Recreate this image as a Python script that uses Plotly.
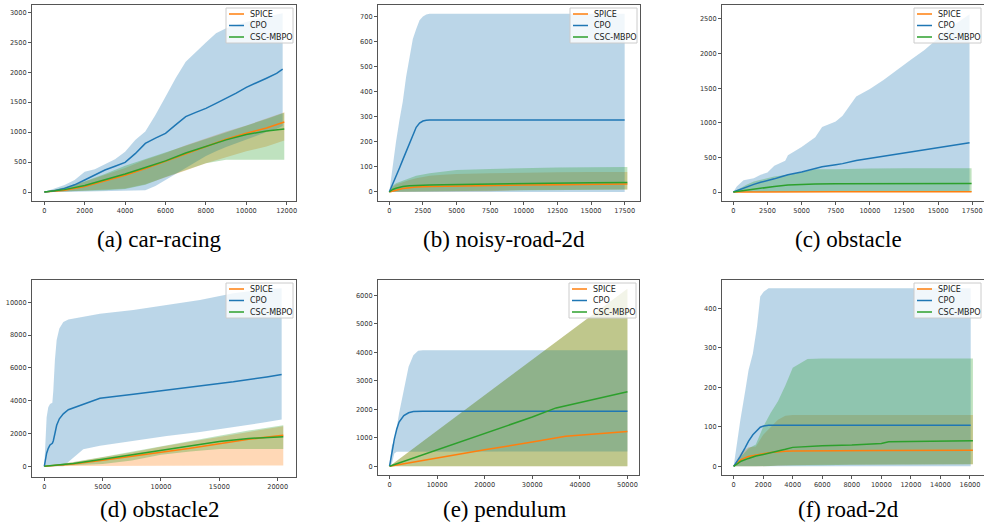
import plotly.graph_objects as go

# ---------------- data ----------------
SERIES = ["SPICE", "CPO", "CSC-MBPO"]
CAPTIONS = ["(a) car-racing", "(b) noisy-road-2d", "(c) obstacle",
            "(d) obstacle2", "(e) pendulum", "(f) road-2d"]

# (a) car-racing
A_x = [0, 1000, 2000, 3000, 4000, 5000, 6000, 7000, 8000, 9000, 10000, 11000, 11880]
A_spice_mean = [0, 30, 90, 180, 280, 390, 510, 640, 760, 880, 980, 1070, 1170]
A_spice_lo = [0, 10, 20, 40, 60, 130, 240, 360, 480, 580, 680, 760, 860]
A_spice_hi = [0, 70, 170, 290, 400, 540, 650, 780, 900, 1010, 1110, 1230, 1330]
A_cpo_x = [0, 500, 1000, 1500, 2000, 2500, 3000, 3500, 4000, 4500, 5000, 5500, 6000,
           6500, 7000, 7500, 8000, 8500, 9000, 9500, 10000, 10500, 11000, 11500, 11800]
A_cpo_mean = [0, 20, 61, 120, 200, 280, 367, 430, 495, 640, 812, 900, 980,
              1120, 1258, 1330, 1397, 1480, 1564, 1650, 1748, 1830, 1900, 1980, 2050]
A_cpo_hi = [0, 55, 117, 200, 340, 380, 460, 545, 673, 870, 1010, 1285, 1592,
            1900, 2176, 2343, 2494, 2650, 2733, 2790, 2844, 2890, 2928, 2960, 2983]
A_cpo_lo = [0, 0, 0, 5, 10, 10, 15, 20, 20, 25, 30, 100, 200,
            300, 400, 500, 600, 680, 750, 820, 880, 940, 1000, 1050, 1100]
A_csc_mean = [0, 40, 110, 200, 300, 410, 520, 650, 760, 870, 960, 1020, 1050]
A_csc_hi = [0, 80, 180, 300, 440, 550, 660, 770, 880, 1000, 1110, 1220, 1325]
A_csc_lo = [0, 10, 20, 30, 50, 120, 250, 370, 480, 540, 540, 540, 540]

# (b) noisy-road-2d
B_x = [0, 250, 500, 1000, 1500, 2000, 3000, 4000, 5000, 7500, 10000, 12500, 15000, 17700]
B_spice_mean = [0, 4, 8, 14, 17, 20, 22, 23, 25, 27, 28, 29, 30, 32]
B_spice_hi = [0, 20, 30, 40, 48, 55, 65, 69, 72, 75, 78, 79, 80, 80]
B_spice_lo = [0, 0, 0, 0, 1, 1, 2, 2, 2, 3, 8, 9, 10, 10]
B_cpo_x = [0, 250, 500, 750, 1000, 1250, 1500, 1750, 2000, 2250, 2500, 2750, 3000, 17500]
B_cpo_mean = [0, 30, 62, 95, 128, 160, 195, 230, 258, 275, 283, 286, 287, 287]
B_cpo_hi = [0, 110, 200, 285, 360, 460, 540, 610, 650, 685, 700, 708, 711, 711]
B_cpo_lo = [0, 0, 0, 0, 0, 0, 0, 0, 0, 0, 0, 0, 0, 0]
B_csc_mean = [0, 10, 15, 22, 25, 27, 28, 29, 30, 32, 34, 36, 37, 38]
B_csc_hi = [0, 25, 35, 45, 55, 65, 75, 82, 88, 92, 96, 98, 99, 100]
B_csc_lo = [0, 1, 2, 3, 3, 3, 4, 4, 5, 6, 7, 8, 9, 10]

# (c) obstacle
C_spice_x = [0, 2500, 7500, 17450]
C_spice_mean = [0, 3, 4, 5]
C_spice_hi = [0, 8, 10, 12]
C_spice_lo = [0, 0, 0, 0]
C_cpo_x = [0, 250, 750, 1500, 2000, 2500, 3000, 3500, 3800, 4000, 5000, 6000, 6500, 7500,
           8000, 9000, 10000, 11000, 12000, 13000, 14000, 15000, 16000, 17300]
C_cpo_mean = [0, 20, 60, 110, 140, 160, 190, 220, 240, 250, 290, 335, 365, 395,
              410, 455, 485, 515, 545, 575, 610, 640, 670, 710]
C_cpo_hi = [0, 80, 170, 200, 250, 280, 380, 420, 450, 530, 650, 790, 940, 1020,
            1100, 1380, 1490, 1620, 1770, 1910, 2050, 2220, 2390, 2570]
C_cpo_lo = [0, 0, 0, 0, 0, 0, 0, 0, 0, 0, 0, 0, 0, 0,
            0, 0, 0, 0, 0, 0, 0, 0, 0, 0]
C_csc_x = [0, 1000, 1500, 2500, 3000, 4000, 5000, 6000, 7500, 9000, 10000, 12500, 15000, 17450]
C_csc_mean = [0, 30, 45, 70, 80, 100, 110, 115, 120, 120, 120, 121, 122, 122]
C_csc_hi = [0, 110, 150, 200, 225, 250, 290, 330, 330, 330, 340, 342, 345, 345]
C_csc_lo = [0, 0, 0, 0, 0, 0, 0, 0, 0, 0, 0, 0, 0, 0]

# (d) obstacle2
D_x = [0, 2500, 5000, 7500, 10000, 12500, 15000, 17500, 20480]
D_spice_mean = [0, 150, 370, 600, 850, 1100, 1380, 1650, 1900]
D_spice_hi = [0, 250, 550, 850, 1200, 1500, 1800, 2100, 2450]
D_spice_lo = [0, 20, 30, 40, 50, 50, 50, 50, 50]
D_cpo_x = [0, 200, 340, 490, 690, 770, 910, 1060, 1290, 1630, 2060, 3340, 4770,
           7630, 10490, 13340, 16200, 19060, 20340]
D_cpo_mean = [0, 800, 1100, 1300, 1400, 1550, 2000, 2500, 2900, 3200, 3450, 3800, 4150,
              4400, 4650, 4900, 5150, 5450, 5600]
D_cpo_hi = [0, 3000, 3600, 3800, 3880, 4600, 6500, 7700, 8400, 8800, 8950, 9100, 9300,
            9530, 9840, 10140, 10550, 10790, 10850]
D_cpo_lo = [0, 0, 0, 0, 0, 0, 0, 0, 0, 0, 300, 1040, 1250,
            1550, 1850, 2100, 2400, 2700, 2850]
D_csc_mean = [0, 180, 430, 700, 1000, 1280, 1520, 1700, 1800]
D_csc_hi = [0, 260, 570, 900, 1250, 1560, 1870, 2180, 2500]
D_csc_lo = [0, 60, 150, 350, 700, 900, 1050, 1050, 1050]

# (e) pendulum
E_spice_x = [0, 10000, 20000, 30000, 37000, 50000]
E_spice_mean = [0, 300, 580, 850, 1050, 1220]
E_spice_hi = [0, 1250, 2500, 3750, 4620, 6240]
E_spice_lo = [0, 0, 0, 0, 0, 0]
E_cpo_x = [0, 500, 1000, 1500, 2000, 3000, 4000, 5000, 6000, 7000, 50000]
E_cpo_mean = [0, 550, 950, 1300, 1550, 1780, 1880, 1920, 1930, 1930, 1930]
E_cpo_hi = [0, 750, 850, 1400, 1860, 2680, 3500, 3900, 4060, 4080, 4080]
E_cpo_lo = [0, 100, 450, 510, 520, 520, 520, 520, 520, 520, 520]
E_csc_x = [0, 10000, 20000, 30000, 35000, 40000, 50000]
E_csc_mean = [0, 580, 1170, 1730, 2050, 2240, 2620]
E_csc_hi = [0, 1250, 2500, 3750, 4370, 5000, 6240]
E_csc_lo = [0, 0, 0, 0, 0, 0, 0]

# (f) road-2d
F_spice_x = [0, 500, 1000, 1500, 2000, 2500, 3000, 3500, 4000, 6000, 10000, 16200]
F_spice_mean = [0, 17, 25, 29, 32, 35, 37, 38, 39, 39, 40, 41]
F_spice_hi = [0, 35, 48, 50, 80, 100, 118, 128, 130, 130, 130, 130]
F_spice_lo = [0, 0, 0, 0, 0, 1, 2, 2, 3, 4, 5, 5]
F_cpo_x = [0, 225, 450, 790, 1010, 1300, 1580, 1800, 2030, 2360, 16050]
F_cpo_mean = [0, 12, 25, 48, 64, 80, 92, 99, 102, 104, 104]
F_cpo_hi = [0, 62, 117, 193, 244, 286, 354, 430, 442, 451, 451]
F_cpo_lo = [0, 0, 0, 0, 0, 0, 0, 0, 0, 0, 0]
F_csc_x = [0, 500, 1000, 1500, 2000, 2500, 3000, 3500, 4000, 5000, 6000, 8000, 9000,
           10000, 10500, 12000, 16200]
F_csc_mean = [0, 13, 20, 26, 30, 34, 38, 43, 48, 50, 52, 54, 56, 58, 62, 63, 65]
F_csc_hi = [0, 25, 45, 55, 100, 135, 165, 205, 250, 272, 273, 273, 273, 273, 273, 273, 273]
F_csc_lo = [0, 0, 0, 0, 0, 1, 2, 2, 3, 3, 3, 4, 4, 4, 5, 5, 5]

# axis ticks
X_DTICK = [2000, 2500, 2500, 5000, 10000, 2000]
Y_DTICK = [500, 100, 500, 2000, 1000, 100]

# ---------------- styling / layout ----------------
W, H = 984, 522
LINE_COLORS = {"SPICE": "#ff7f0e", "CPO": "#1f77b4", "CSC-MBPO": "#2ca02c"}
FILL_COLORS = {"SPICE": "rgba(255,127,14,0.3)", "CPO": "rgba(31,119,180,0.3)",
               "CSC-MBPO": "rgba(44,160,44,0.3)"}

# axes boxes in pixels: (left, right, top, bottom)
BOXES = [(32, 296, 5, 201), (378, 640, 5, 201), (722, 984, 5, 201),
         (32, 296, 280, 477), (378, 639, 280, 475), (722, 984, 280, 475)]
X_RANGES = [(-610, 12460), (-840, 18640), (-830, 18360),
            (-1054, 21570), (-2430, 52430), (-790, 16950)]
Y_RANGES = [(-150, 3122), (-36, 746), (-130, 2702),
            (-650, 11360), (-308, 6545), (-22, 472)]
CAP_POS = [(159, 239), (504, 239), (848, 239), (159, 509), (504, 509), (848, 509)]

panels = [
    {"SPICE": (A_x, A_spice_mean, A_spice_lo, A_spice_hi),
     "CPO": (A_cpo_x, A_cpo_mean, A_cpo_lo, A_cpo_hi),
     "CSC-MBPO": (A_x, A_csc_mean, A_csc_lo, A_csc_hi)},
    {"SPICE": (B_x, B_spice_mean, B_spice_lo, B_spice_hi),
     "CPO": (B_cpo_x, B_cpo_mean, B_cpo_lo, B_cpo_hi),
     "CSC-MBPO": (B_x, B_csc_mean, B_csc_lo, B_csc_hi)},
    {"SPICE": (C_spice_x, C_spice_mean, C_spice_lo, C_spice_hi),
     "CPO": (C_cpo_x, C_cpo_mean, C_cpo_lo, C_cpo_hi),
     "CSC-MBPO": (C_csc_x, C_csc_mean, C_csc_lo, C_csc_hi)},
    {"SPICE": (D_x, D_spice_mean, D_spice_lo, D_spice_hi),
     "CPO": (D_cpo_x, D_cpo_mean, D_cpo_lo, D_cpo_hi),
     "CSC-MBPO": (D_x, D_csc_mean, D_csc_lo, D_csc_hi)},
    {"SPICE": (E_spice_x, E_spice_mean, E_spice_lo, E_spice_hi),
     "CPO": (E_cpo_x, E_cpo_mean, E_cpo_lo, E_cpo_hi),
     "CSC-MBPO": (E_csc_x, E_csc_mean, E_csc_lo, E_csc_hi)},
    {"SPICE": (F_spice_x, F_spice_mean, F_spice_lo, F_spice_hi),
     "CPO": (F_cpo_x, F_cpo_mean, F_cpo_lo, F_cpo_hi),
     "CSC-MBPO": (F_csc_x, F_csc_mean, F_csc_lo, F_csc_hi)},
]


def px(x):
    return x / W


def py(y):
    return 1 - y / H


fig = go.Figure()
layout = dict(width=W, height=H, margin=dict(l=0, r=0, t=0, b=0),
              paper_bgcolor="white", plot_bgcolor="white", showlegend=False,
              annotations=[], shapes=[])

for i, panel in enumerate(panels):
    n = i + 1
    xa = "x" if n == 1 else f"x{n}"
    ya = "y" if n == 1 else f"y{n}"
    # bands
    for s in SERIES:
        xs, m, lo, hi = panel[s]
        fig.add_trace(go.Scatter(
            x=list(xs) + list(xs)[::-1], y=list(hi) + list(lo)[::-1],
            fill="toself", fillcolor=FILL_COLORS[s], line=dict(width=0),
            mode="lines", hoverinfo="skip", showlegend=False,
            xaxis=xa, yaxis=ya))
    # mean lines
    for s in SERIES:
        xs, m, lo, hi = panel[s]
        fig.add_trace(go.Scatter(
            x=xs, y=m, mode="lines", name=s,
            line=dict(color=LINE_COLORS[s], width=1.5),
            xaxis=xa, yaxis=ya))

    l, r, t, b = BOXES[i]
    axis_common = dict(showline=True, mirror=True, linecolor="#555", linewidth=1,
                       ticks="outside", ticklen=3, tickcolor="#555", showgrid=False,
                       zeroline=False, tickformat="d",
                       tickfont=dict(family="DejaVu Sans", size=6.6, color="#333"))
    layout["xaxis" if n == 1 else f"xaxis{n}"] = dict(
        domain=[l / W, r / W], range=list(X_RANGES[i]), dtick=X_DTICK[i], tick0=0,
        anchor=ya, **axis_common)
    layout["yaxis" if n == 1 else f"yaxis{n}"] = dict(
        domain=[1 - b / H, 1 - t / H], range=list(Y_RANGES[i]), dtick=Y_DTICK[i], tick0=0,
        anchor=xa, **axis_common)

    # matplotlib-style legend box in the upper-right corner of each panel
    lx0, lx1 = r - 70, min(r - 3, W - 2)
    ly0, ly1 = t + 3, t + 38
    layout["shapes"].append(dict(
        type="rect", xref="paper", yref="paper",
        x0=px(lx0), x1=px(lx1), y0=py(ly1), y1=py(ly0),
        fillcolor="rgba(255,255,255,0.8)", line=dict(color="#cccccc", width=1)))
    for k, s in enumerate(SERIES):
        ry = t + 9 + k * 11.5
        layout["shapes"].append(dict(
            type="line", xref="paper", yref="paper",
            x0=px(lx0 + 3), x1=px(lx0 + 18), y0=py(ry), y1=py(ry),
            line=dict(color=LINE_COLORS[s], width=1.5)))
        layout["annotations"].append(dict(
            text=s, x=px(lx0 + 22), y=py(ry), xref="paper", yref="paper",
            xanchor="left", yanchor="middle", showarrow=False,
            font=dict(family="DejaVu Sans", size=8, color="#222")))

    cx, cy = CAP_POS[i]
    layout["annotations"].append(dict(
        text=CAPTIONS[i], x=px(cx), y=py(cy), xref="paper", yref="paper",
        xanchor="center", yanchor="middle", showarrow=False,
        font=dict(family="Liberation Serif", size=23, color="black")))

fig.update_layout(**layout)
fig.write_html("out.html",
               config={"displayModeBar": False},
               post_script="document.body.style.margin='0';"
                           "document.body.style.overflow='hidden';")
